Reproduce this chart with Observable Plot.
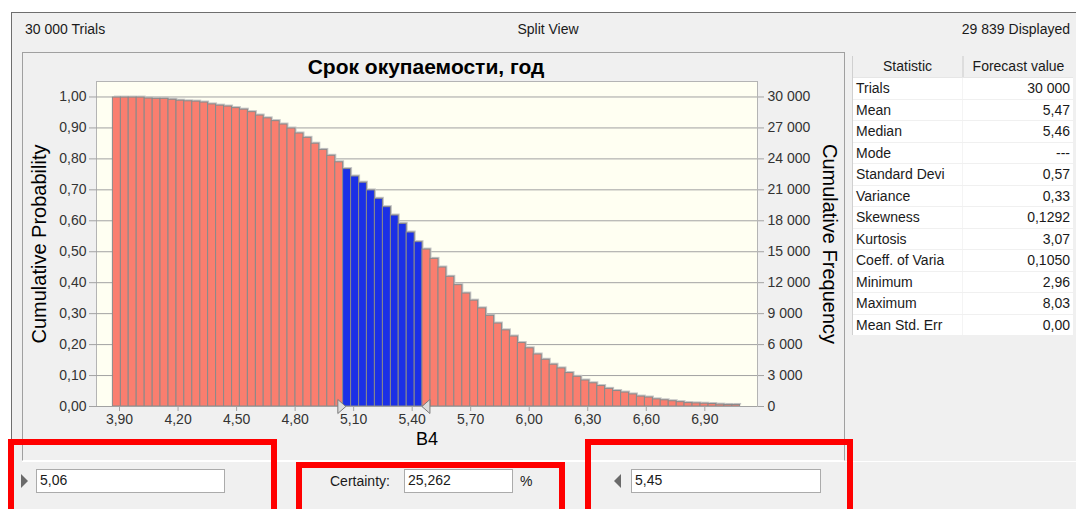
<!DOCTYPE html>
<html><head><meta charset="utf-8">
<script src="https://cdn.jsdelivr.net/npm/d3@7"></script>
<script src="https://cdn.jsdelivr.net/npm/@observablehq/plot@0.6"></script>
<style>
html,body{margin:0;padding:0;background:#fff;}
#root{position:relative;width:1076px;height:509px;background:#f0f0f0;font-family:"Liberation Sans",Arial,sans-serif;color:#1a1a1a;overflow:hidden;}
.a{position:absolute;white-space:nowrap;}
.inp{position:absolute;background:#fff;border:1px solid #ababab;box-sizing:border-box;font-size:14px;line-height:21px;padding-left:3px;}
.red{position:absolute;border:6px solid #ff0000;border-bottom:none;box-sizing:border-box;}
</style></head><body><div id="root"></div>
<script>
// ---------- data ----------
const trialsText = "30 000 Trials";
const viewText = "Split View";
const displayedText = "29 839 Displayed";
const chartTitle = "Срок окупаемости, год";
const xLabel = "B4";
const yLabelLeft = "Cumulative Probability";
const yLabelRight = "Cumulative Frequency";

const binEdges = [3.866,3.907,3.947,3.988,4.029,4.070,4.110,4.151,4.192,4.232,4.273,4.314,4.354,4.395,4.436,4.477,4.517,4.558,4.599,4.639,4.680,4.721,4.761,4.802,4.843,4.884,4.924,4.965,5.006,5.046,5.087,5.128,5.168,5.209,5.250,5.291,5.331,5.372,5.413,5.453,5.494,5.535,5.575,5.616,5.657,5.698,5.738,5.779,5.820,5.860,5.901,5.942,5.982,6.023,6.064,6.105,6.145,6.186,6.227,6.267,6.308,6.349,6.389,6.430,6.471,6.512,6.552,6.593,6.634,6.674,6.715,6.756,6.796,6.837,6.878,6.919,6.959,7.000,7.041,7.081];
const cumProb = [0.998,0.998,0.998,0.998,0.995,0.994,0.994,0.991,0.988,0.986,0.985,0.982,0.976,0.972,0.969,0.964,0.959,0.951,0.940,0.931,0.922,0.911,0.898,0.882,0.868,0.849,0.829,0.810,0.789,0.767,0.743,0.723,0.698,0.671,0.644,0.617,0.590,0.562,0.531,0.507,0.477,0.449,0.419,0.392,0.365,0.342,0.317,0.293,0.268,0.246,0.226,0.205,0.188,0.168,0.151,0.135,0.123,0.108,0.096,0.084,0.075,0.066,0.057,0.050,0.045,0.039,0.032,0.029,0.023,0.020,0.017,0.014,0.011,0.010,0.009,0.008,0.006,0.005,0.005];

const lowerBound = 5.06;
const upperBound = 5.45;
const lowerText = "5,06";
const upperText = "5,45";
const certaintyText = "25,262";

const xTicks = [3.9,4.2,4.5,4.8,5.1,5.4,5.7,6.0,6.3,6.6,6.9];
const xTickLabels = ["3,90","4,20","4,50","4,80","5,10","5,40","5,70","6,00","6,30","6,60","6,90"];
const yTicks = [0,0.1,0.2,0.3,0.4,0.5,0.6,0.7,0.8,0.9,1.0];
const probTickLabels = ["0,00","0,10","0,20","0,30","0,40","0,50","0,60","0,70","0,80","0,90","1,00"];
const freqTickLabels = ["0","3 000","6 000","9 000","12 000","15 000","18 000","21 000","24 000","27 000","30 000"];

const statNames = ["Trials","Mean","Median","Mode","Standard Devi","Variance","Skewness","Kurtosis","Coeff. of Varia","Minimum","Maximum","Mean Std. Err"];
const statValues = ["30 000","5,47","5,46","---","0,57","0,33","0,1292","3,07","0,1050","2,96","8,03","0,00"];

// ---------- layout ----------
const root = document.getElementById("root");
function el(tag, cls, style, text){const e=document.createElement(tag); if(cls) e.className=cls; if(style) e.style.cssText=style; if(text!=null) e.textContent=text; root.appendChild(e); return e;}

// top white strip + border
el("div","a","left:0;top:0;width:1076px;height:12px;background:#fff;");
el("div","a","left:0;top:0;width:11px;height:509px;background:#fff;");
el("div","a","left:11px;top:12px;width:1065px;height:1px;background:#6e6e6e;");
el("div","a","left:11px;top:12px;width:1px;height:497px;background:#6e6e6e;");
el("div","a","left:25px;top:21px;font-size:14px;", trialsText);
el("div","a","left:448px;top:21px;width:200px;text-align:center;font-size:14px;", viewText);
el("div","a","right:6px;top:21px;font-size:14px;", displayedText);

// chart panel border
el("div","a","left:22px;top:52px;width:823px;height:409px;border:1px solid #a0a0a0;border-bottom:1px solid #fff;box-sizing:border-box;");

// title
el("div","a","left:226px;top:55px;width:400px;text-align:center;font-size:21px;font-weight:bold;color:#000;", chartTitle);

// ---------- plot ----------
const bars = cumProb.map((p,i)=>({x1:binEdges[i], x2:binEdges[i+1], p, sel:((binEdges[i]+binEdges[i+1])/2>=lowerBound && (binEdges[i]+binEdges[i+1])/2<=upperBound)}));
const markers = [{x:lowerBound, dir:"r"},{x:upperBound, dir:"l"}];
const triR = {draw(ctx){ctx.moveTo(-8,-7);ctx.lineTo(0,0);ctx.lineTo(-8,7);ctx.closePath();}};
const triL = {draw(ctx){ctx.moveTo(8,-7);ctx.lineTo(0,0);ctx.lineTo(8,7);ctx.closePath();}};
const fmtIdx = (arr) => (d)=>{const i = yTicks.findIndex(t=>Math.abs(t-d)<1e-9); return i>=0?arr[i]:"";};

const chart = Plot.plot({
  width: 826, height: 412,
  marginLeft: 74, marginRight: 91, marginTop: 29, marginBottom: 58,
  style: {background:"transparent", fontFamily:"'Liberation Sans', Arial, sans-serif", fontSize:"14px", color:"#333", overflow:"visible"},
  x: {domain:[3.782, 7.170]},
  y: {domain:[0, 1.05]},
  marks: [
    Plot.frame({fill:"#fffff2", stroke:"#b4b4b4"}),
    Plot.gridY(yTicks, {stroke:"#a2a2a2", strokeOpacity:1}),
    Plot.axisY(yTicks, {anchor:"left", tickFormat: fmtIdx(probTickLabels), tickSize:7, tickPadding:3, stroke:"#a2a2a2", label:null, fontSize:14}),
    Plot.axisY(yTicks, {anchor:"right", tickFormat: fmtIdx(freqTickLabels), tickSize:6, tickPadding:4, stroke:"#a2a2a2", label:null, fontSize:14}),
    Plot.axisX(xTicks, {tickFormat:(d)=>xTickLabels[xTicks.findIndex(t=>Math.abs(t-d)<1e-9)], tickSize:5, tickPadding:3, stroke:"#a2a2a2", label:null, fontSize:14}),
    Plot.rectY(bars, {x1:"x1", x2:"x2", y:"p", fill:"#c4c4c4", dx:1.5, dy:-1.5, inset:0}),
    Plot.rectY(bars, {x1:"x1", x2:"x2", y:"p", fill:(d)=>d.sel?"#1b30e6":"#fa7e6f", stroke:"#8a8a8a", strokeWidth:1, inset:0}),
    Plot.ruleY([0], {stroke:"#a2a2a2"}),
    Plot.dot(markers.filter(m=>m.dir==="r"), {x:"x", y:0, symbol:triR, r:5, fill:"#dcdcdc", stroke:"#7a7a7a", strokeWidth:1}),
    Plot.dot(markers.filter(m=>m.dir==="l"), {x:"x", y:0, symbol:triL, r:5, fill:"#dcdcdc", stroke:"#7a7a7a", strokeWidth:1})
  ]
});
chart.style.position = "absolute";
chart.style.left = "22px";
chart.style.top = "52px";
root.appendChild(chart);

// axis titles
el("div","a","left:39px;top:244px;font-size:20px;color:#000;transform:translate(-50%,-50%) rotate(-90deg);", yLabelLeft);
el("div","a","left:829px;top:244px;font-size:20px;color:#000;transform:translate(-50%,-50%) rotate(90deg);", yLabelRight);
el("div","a","left:327px;top:429px;width:200px;text-align:center;font-size:18px;color:#000;", xLabel);

// ---------- stats table ----------
const tw = el("div","a","left:852px;top:56px;width:220px;height:279px;background:#fff;border-left:1px solid #d0d0d0;");
let html = '<div style="display:flex;height:21px;background:#f0f0f0;border-bottom:1px solid #e6e6e6;font-size:14px;line-height:21px;">'
 + '<div style="width:109px;text-align:center;border-right:2px solid #ddd;">Statistic</div>'
 + '<div style="width:109px;text-align:center;">Forecast value</div></div>';
statNames.forEach((n,i)=>{
  html += '<div style="display:flex;height:20.5px;border-bottom:1px solid #f0f0f0;font-size:14px;line-height:21px;">'
   + '<div style="width:110px;padding-left:3px;box-sizing:border-box;overflow:hidden;border-right:1px solid #f4f4f4;">'+n+'</div>'
   + '<div style="width:107px;text-align:right;">'+statValues[i]+'</div></div>';
});
tw.innerHTML = html;

// ---------- bottom controls ----------
el("div","a","left:22px;top:461px;width:1054px;height:1px;background:#fff;");
el("div","a","left:21px;top:474px;width:0;height:0;border-top:7px solid transparent;border-bottom:7px solid transparent;border-left:7px solid #6a6a6a;");
el("div","inp","left:36px;top:469px;width:189px;height:24px;", lowerText);
el("div","a","left:330px;top:473px;font-size:14px;", "Certainty:");
el("div","inp","left:404px;top:469px;width:109px;height:24px;", certaintyText);
el("div","a","left:520px;top:473px;font-size:14px;", "%");
el("div","a","left:614px;top:474px;width:0;height:0;border-top:7px solid transparent;border-bottom:7px solid transparent;border-right:7px solid #6a6a6a;");
el("div","inp","left:631px;top:469px;width:190px;height:24px;", upperText);

// red annotation boxes
el("div","red","left:8px;top:439px;width:269px;height:80px;");
el("div","red","left:296px;top:462px;width:269px;height:60px;");
el("div","red","left:585px;top:439px;width:268px;height:80px;");
</script></body></html>
